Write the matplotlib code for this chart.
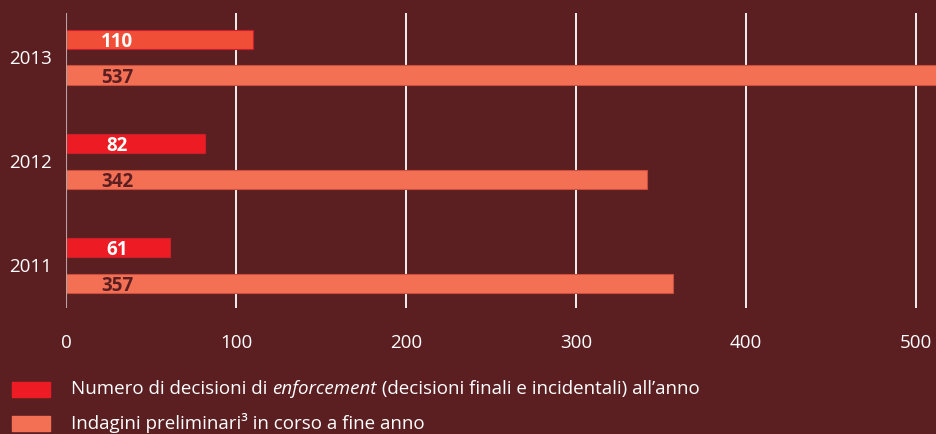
import numpy as np
import matplotlib.pyplot as plt

plt.rcParams["font.family"] = ["Open Sans", "DejaVu Sans"]

# Data
years = ["2011", "2012", "2013"]
decisioni = [61, 82, 110]
indagini = [357, 342, 537]
ticks = [0, 100, 200, 300, 400, 500]

BG = "#5B1F22"
RED = ["#ED1C24", "#ED1C24", "#F04E37"]
SALMON = "#F37055"
FS = 13.5

fig = plt.figure(figsize=(9.37, 4.34), dpi=100, facecolor=BG)
ax = fig.add_axes([0.0704, 0.2903, 0.9296, 0.6797], facecolor=BG)

y = np.arange(len(years))
off = 0.173
h = 0.183

ax.barh(y + off, decisioni, height=h, color=RED, edgecolor="#C8202A", linewidth=0.8, zorder=3)
ax.barh(y - off, indagini, height=h, color=SALMON, edgecolor="#C9503C", linewidth=0.8, zorder=3)

for i in range(len(years)):
    ax.text(30, y[i] + off, str(decisioni[i]), ha="center", va="center_baseline",
            color="white", fontsize=FS, fontweight="bold", zorder=4)
    ax.text(30, y[i] - off, str(indagini[i]), ha="center", va="center_baseline",
            color="#5B1F22", fontsize=FS, fontweight="bold", zorder=4)

ax.set_xlim(0, 512.4)
ax.set_ylim(-0.413, 2.423)
ax.set_xticks(ticks)
ax.set_xticklabels([str(t) for t in ticks], color="white", fontsize=FS)
ax.set_yticks(y)
ax.set_yticklabels(years, color="white", fontsize=FS)
ax.tick_params(length=0, pad=19, axis="x")
ax.tick_params(length=0, pad=10, axis="y")

for t in ticks[1:]:
    ax.axvline(t, color="white", linewidth=1.3, zorder=1)
ax.axvline(0, color="#B8A3A3", linewidth=1.5, zorder=5)
for s in ax.spines.values():
    s.set_visible(False)

# Legend
fig.patches.append(plt.Rectangle((12 / 937, 1 - 397 / 434), 38 / 937, 15 / 434,
                                 transform=fig.transFigure, color="#ED1C24"))
fig.patches.append(plt.Rectangle((12 / 937, 1 - 431 / 434), 38 / 937, 15 / 434,
                                 transform=fig.transFigure, color=SALMON))
t1 = fig.text(71 / 937, 1 - 389 / 434, "Numero di decisioni di ",
              color="white", fontsize=FS, va="center")
t2 = fig.text(0, 0, "enforcement", color="white", fontsize=FS, style="italic")
t3 = fig.text(0, 0, " (decisioni finali e incidentali) all’anno", color="white", fontsize=FS)
fig.canvas.draw()
r = fig.canvas.get_renderer()
inv = fig.transFigure.inverted()
bb = t1.get_window_extent(r)
x0, y0 = inv.transform((bb.x1, bb.y0))
t2.set_position((x0, y0))
t2.set_va("bottom")
bb2 = t2.get_window_extent(r)
x1, _ = inv.transform((bb2.x1, bb2.y0))
t3.set_position((x1, y0))
t3.set_va("bottom")
fig.text(71 / 937, 1 - 423 / 434, "Indagini preliminari³ in corso a fine anno",
         color="white", fontsize=FS, va="center")

fig.savefig("out.png", dpi=100, facecolor=BG)
